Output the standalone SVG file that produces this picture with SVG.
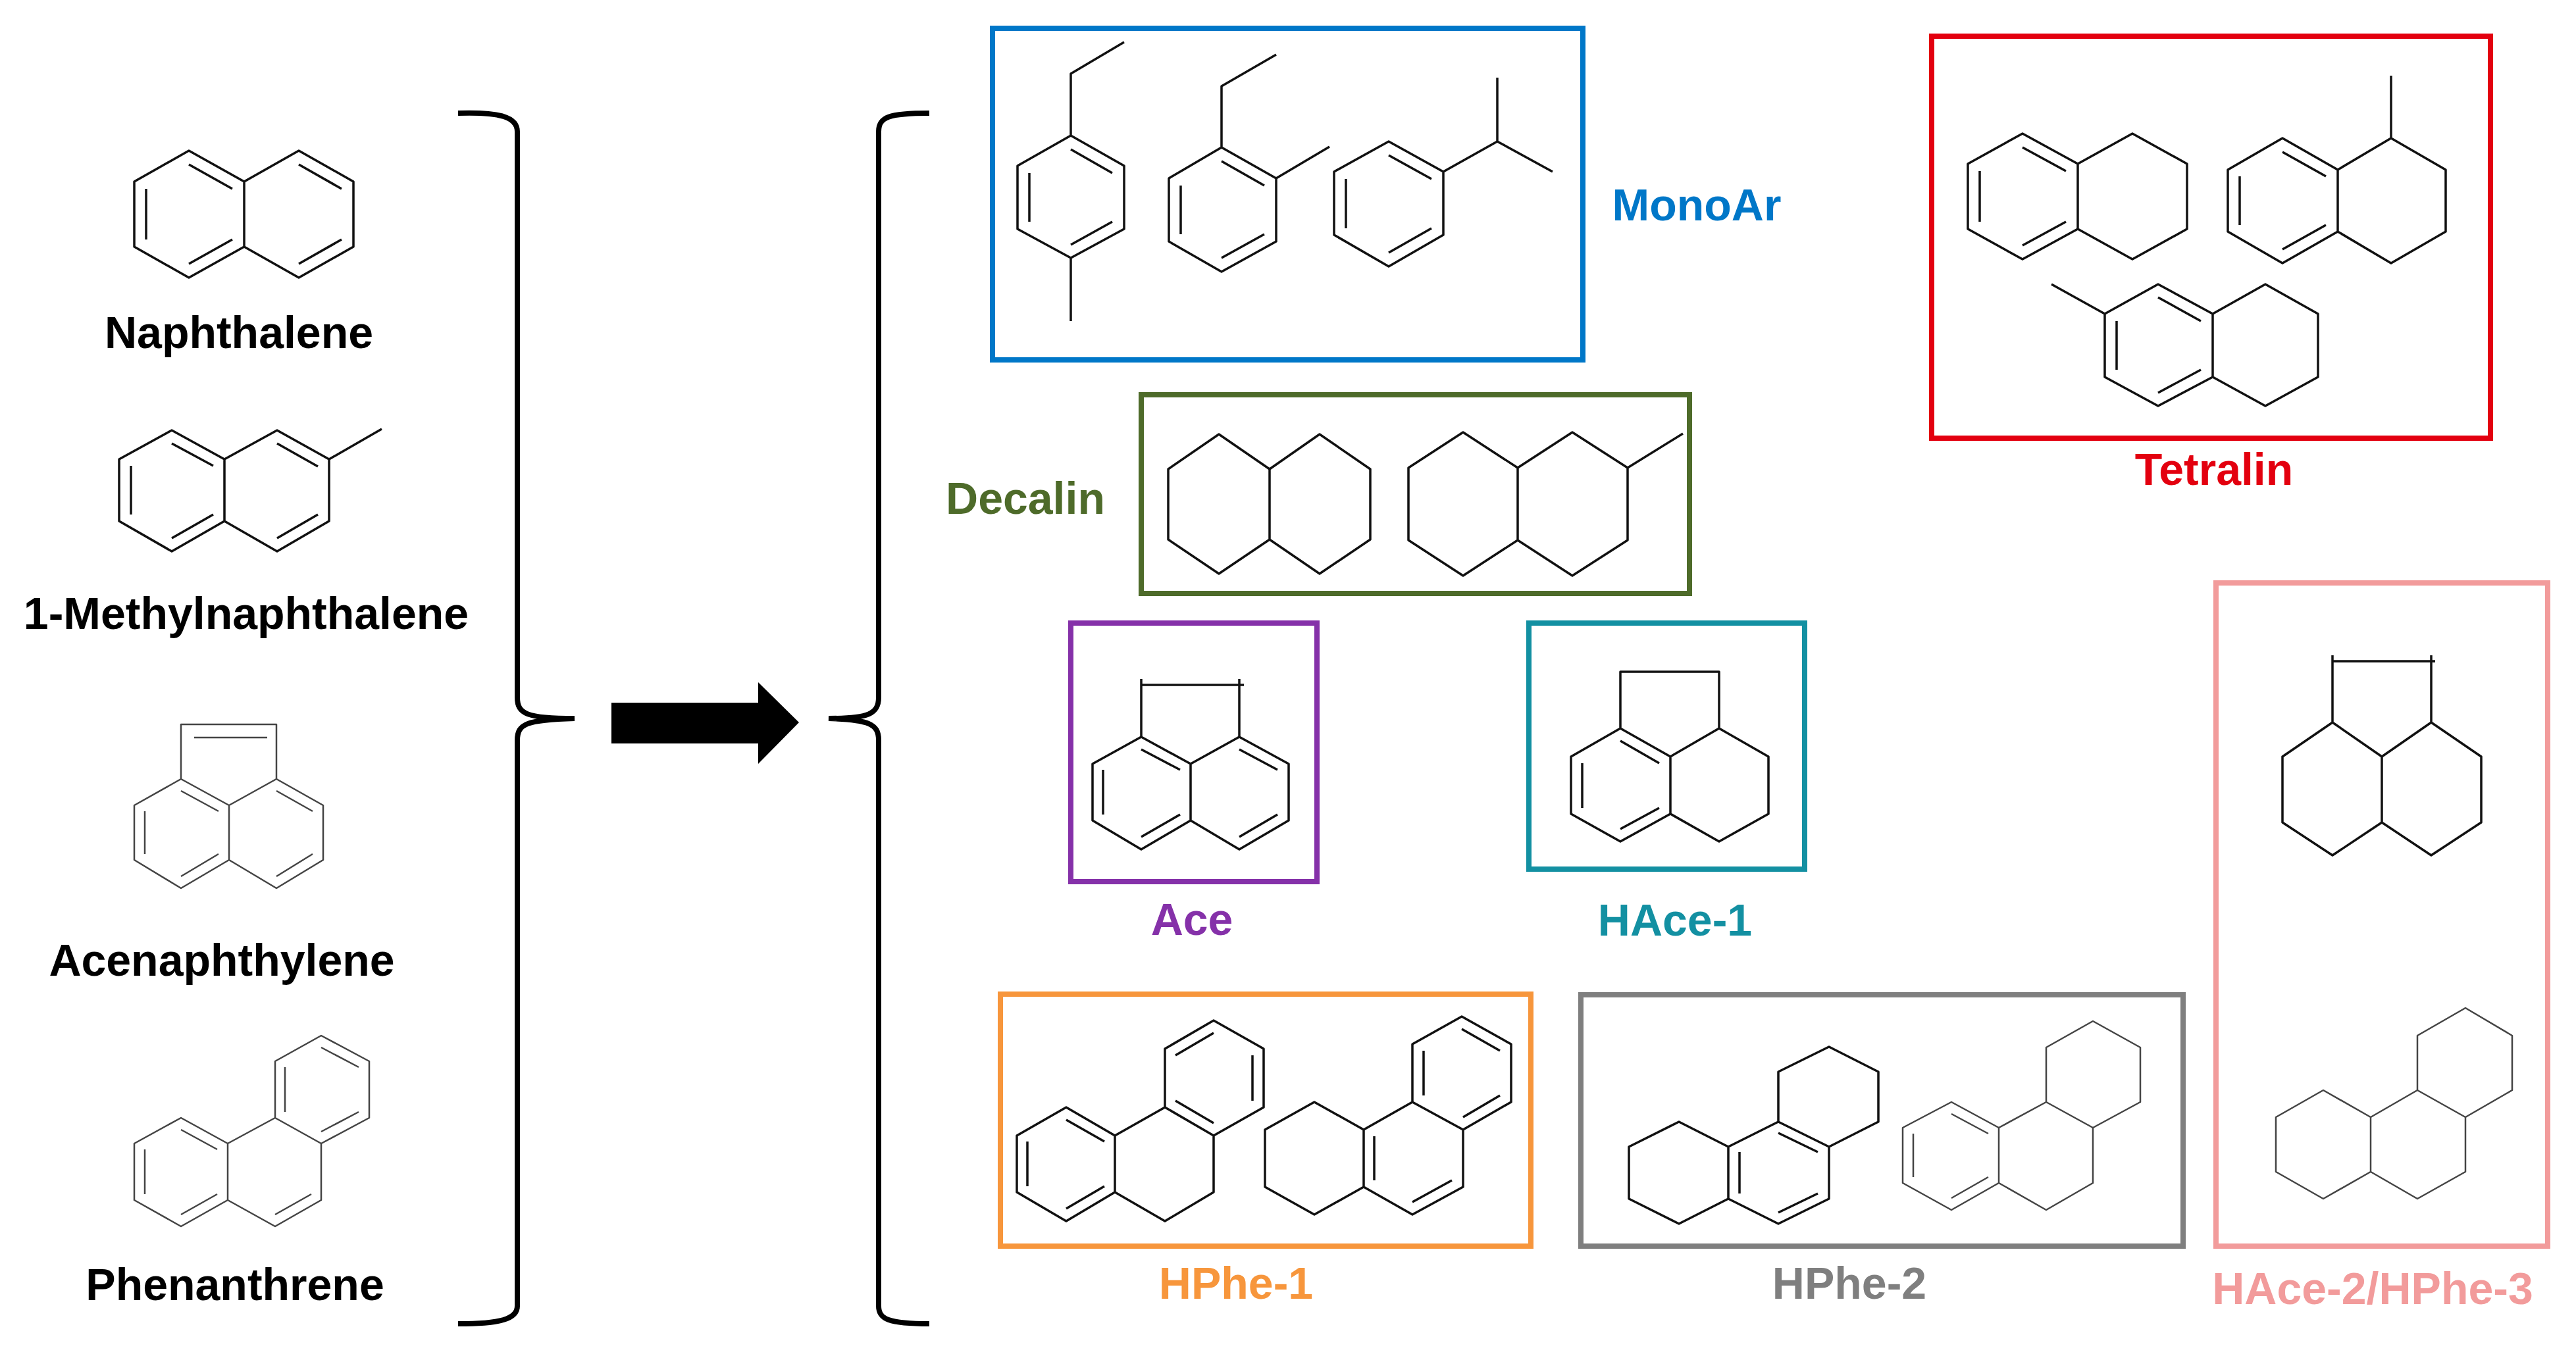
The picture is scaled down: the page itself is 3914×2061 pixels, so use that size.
<svg xmlns="http://www.w3.org/2000/svg" width="3914" height="2061" viewBox="0 0 3914 2061">
<style>
.m{fill:none;stroke:#111;stroke-width:3.5;stroke-linejoin:round}
.g{fill:none;stroke:#444;stroke-width:2.5;stroke-linejoin:round}
.box{fill:none;stroke-width:8}
.lb{font-family:"Liberation Sans",Arial,sans-serif;font-weight:bold;font-size:68px;text-anchor:middle}
</style>
<rect width="3914" height="2061" fill="#fff"/>
<g id="naphthalene">
<path class="m" d="M204,276 L287,229 L371,276 L371,375 L287,422 L204,375 Z M371,276 L454,229 L537,276 L537,375 L454,422 L371,375 M222,287 L222,364 M287,250 L353,287 M287,401 L353,364 M454,250 L519,287 M454,401 L519,364"/>
<text class="lb" x="363" y="529">Naphthalene</text>
</g>
<g id="methylnaphthalene">
<path class="m" d="M181,698 L261,654 L341,698 L341,792 L261,838 L181,792 Z M341,698 L421,654 L500,698 L500,792 L421,838 L341,792 M500,698 L580,652 M199,708 L199,782 M261,674 L324,708 M261,818 L324,782 M421,674 L483,709 M421,818 L483,782"/>
<text class="lb" x="374" y="956">1-Methylnaphthalene</text>
</g>
<g id="acenaphthylene">
<path class="g" d="M275,1184 L348,1224 L348,1307 L275,1350 L204,1307 L204,1224 Z M348,1224 L420,1184 L491,1224 L491,1307 L420,1350 L348,1307 M275,1184 L275,1101 L420,1101 L420,1184 M295,1121 L406,1121 M220,1233 L220,1298 M275,1202 L332,1233 M275,1332 L332,1298 M420,1202 L475,1233 M420,1332 L475,1298"/>
<text class="lb" x="337" y="1483">Acenaphthylene</text>
</g>
<g id="phenanthrene">
<path class="g" d="M275,1699 L346,1738 L346,1824 L275,1864 L204,1824 L204,1738 Z M488,1574 L561,1613 L561,1699 L488,1738 L418,1699 L418,1613 Z M346,1738 L418,1699 M488,1738 L488,1824 L418,1864 L346,1824 M220,1747 L220,1815 M275,1717 L330,1747 M275,1846 L330,1815 M488,1592 L545,1622 M433,1622 L433,1690 M488,1720 L545,1690 M418,1846 L473,1815"/>
<text class="lb" x="357" y="1976">Phenanthrene</text>
</g>
<g id="connectors">
<path d="M696,172 C760,170 786,178 786,200 L786,1060 C786,1085 800,1092 873,1092 C800,1094 786,1100 786,1125 L786,1985 C786,2005 760,2012 696,2012" fill="none" stroke="#000" stroke-width="8"/>
<path d="M1412,172 C1350,172 1335,178 1335,200 L1335,1060 C1335,1085 1320,1092 1259,1092 C1320,1094 1335,1100 1335,1125 L1335,1985 C1335,2005 1350,2012 1412,2012" fill="none" stroke="#000" stroke-width="8"/>
<path d="M929,1068 L1152,1068 L1152,1037 L1214,1098 L1152,1161 L1152,1130 L929,1130 Z" fill="#000"/>
</g>
<g id="monoar">
<rect class="box" x="1508" y="43" width="897" height="504" stroke="#0077C8"/>
<path class="m" d="M1627,206 L1708,252 L1708,348 L1627,392 L1546,348 L1546,252 Z M1627,206 L1627,112 L1708,64 M1627,392 L1627,488 M1627,227 L1690,263 M1627,372 L1690,337 M1564,263 L1564,337"/>
<path class="m" d="M1856,224 L1939,271 L1939,367 L1856,413 L1776,367 L1776,271 Z M1856,224 L1856,131 L1939,83 M1939,271 L2020,223 M1856,245 L1921,282 M1856,392 L1921,356 M1794,282 L1794,356"/>
<path class="m" d="M2110,215 L2193,261 L2193,357 L2110,405 L2027,357 L2027,261 Z M2193,261 L2275,215 L2275,118 M2275,215 L2359,261 M2110,236 L2175,272 M2110,384 L2175,347 M2045,272 L2045,347"/>
<text class="lb" x="2578" y="335" fill="#0077C8">MonoAr</text>
</g>
<g id="decalin">
<rect class="box" x="1734" y="600" width="833" height="302" stroke="#4E6B2A"/>
<path class="m" d="M1852,660 L1929,713 L1929,820 L1852,872 L1775,820 L1775,713 Z M1929,713 L2005,660 L2082,713 L2082,820 L2005,872 L1929,820"/>
<path class="m" d="M2223,657 L2306,711 L2306,821 L2223,875 L2140,821 L2140,711 Z M2306,711 L2389,657 L2473,711 L2473,821 L2389,875 L2306,821 M2473,711 L2557,659"/>
<text class="lb" x="1558" y="781" fill="#4E6B2A">Decalin</text>
</g>
<g id="tetralin">
<rect class="box" x="2935" y="55" width="849" height="611" stroke="#E3000F"/>
<path class="m" d="M3073,203 L3157,249 L3157,348 L3073,394 L2990,348 L2990,249 Z M3157,249 L3240,203 L3323,249 L3323,348 L3240,394 L3157,348 M3073,224 L3139,260 M3008,260 L3008,337 M3073,373 L3139,337"/>
<path class="m" d="M3468,210 L3552,258 L3552,352 L3468,400 L3385,352 L3385,258 Z M3552,258 L3633,210 L3716,258 L3716,352 L3633,400 L3552,352 M3633,210 L3633,115 M3468,231 L3534,268 M3403,268 L3403,342 M3468,379 L3534,342"/>
<path class="m" d="M3279,432 L3362,477 L3362,573 L3279,617 L3198,573 L3198,477 Z M3362,477 L3442,432 L3522,477 L3522,573 L3442,617 L3362,573 M3198,477 L3117,432 M3279,452 L3344,488 M3216,488 L3216,562 M3279,597 L3344,562"/>
<text class="lb" x="3364" y="737" fill="#E3000F">Tetralin</text>
</g>
<g id="ace">
<rect class="box" x="1627" y="947" width="374" height="393" stroke="#8531A9"/>
<path class="m" d="M1734,1120 L1809,1161 L1809,1247 L1734,1291 L1660,1247 L1660,1161 Z M1809,1161 L1883,1120 L1958,1161 L1958,1247 L1883,1291 L1809,1247 M1734,1120 L1734,1032 M1883,1120 L1883,1032 M1734,1041 L1890,1041 M1734,1139 L1793,1170 M1676,1170 L1676,1238 M1734,1272 L1793,1238 M1883,1139 L1941,1170 M1883,1272 L1941,1238"/>
<text class="lb" x="1811" y="1421" fill="#8531A9">Ace</text>
</g>
<g id="hace1">
<rect class="box" x="2323" y="947" width="419" height="374" stroke="#1390A2"/>
<path class="m" d="M2462,1107 L2538,1150 L2538,1237 L2462,1279 L2387,1237 L2387,1150 Z M2538,1150 L2612,1107 L2687,1150 L2687,1237 L2612,1279 L2538,1237 M2462,1107 L2462,1021 L2612,1021 L2612,1107 M2462,1126 L2521,1160 M2404,1160 L2404,1228 M2462,1260 L2521,1228"/>
<text class="lb" x="2545" y="1422" fill="#1390A2">HAce-1</text>
</g>
<g id="hace2hphe3">
<rect class="box" x="3367" y="886" width="504" height="1008" stroke="#F29B9B"/>
<path class="m" d="M3544,1098 L3619,1150 L3619,1250 L3544,1300 L3468,1250 L3468,1150 Z M3619,1150 L3694,1098 L3770,1150 L3770,1250 L3694,1300 L3619,1250 M3544,1098 L3544,996 M3694,1098 L3694,996 M3544,1005 L3700,1005"/>
<path class="g" d="M3746,1532 L3817,1574 L3817,1657 L3746,1698 L3673,1657 L3673,1574 Z M3673,1657 L3602,1698 L3602,1781 L3673,1822 L3746,1781 L3746,1698 M3602,1698 L3530,1657 L3458,1698 L3458,1781 L3530,1822 L3602,1781"/>
<text class="lb" x="3605" y="1982" fill="#F29B9B">HAce-2/HPhe-3</text>
</g>
<g id="hphe1">
<rect class="box" x="1520" y="1511" width="806" height="383" stroke="#F7963C"/>
<path class="m" d="M1620,1683 L1694,1726 L1694,1812 L1620,1856 L1545,1812 L1545,1726 Z M1844,1551 L1920,1594 L1920,1683 L1844,1726 L1770,1683 L1770,1594 Z M1694,1726 L1770,1683 M1844,1726 L1844,1812 L1770,1856 L1694,1812 M1620,1702 L1678,1735 M1561,1735 L1561,1803 M1620,1837 L1678,1803 M1844,1570 L1786,1604 M1903,1604 L1903,1673 M1786,1673 L1844,1707"/>
<path class="m" d="M1997,1675 L2072,1717 L2072,1804 L1997,1846 L1922,1804 L1922,1717 Z M2072,1717 L2146,1675 L2223,1717 L2223,1804 L2146,1846 L2072,1804 M2146,1675 L2146,1587 L2221,1545 L2296,1587 L2296,1675 L2223,1717 M2088,1727 L2088,1794 M2146,1827 L2206,1794 M2163,1597 L2163,1665 M2221,1564 L2279,1597 M2279,1665 L2223,1698"/>
<text class="lb" x="1878" y="1974" fill="#F7963C">HPhe-1</text>
</g>
<g id="hphe2">
<rect class="box" x="2402" y="1512" width="915" height="382" stroke="#7F7F7F"/>
<path class="m" d="M2551,1705 L2626,1743 L2626,1822 L2551,1860 L2475,1822 L2475,1743 Z M2626,1743 L2702,1705 L2779,1743 L2779,1822 L2702,1860 L2626,1822 M2702,1705 L2702,1629 L2779,1591 L2854,1629 L2854,1705 L2779,1743 M2643,1751 L2643,1814 M2702,1722 L2762,1751 M2702,1843 L2762,1814"/>
<path class="g" d="M2965,1675 L3037,1714 L3037,1798 L2965,1839 L2891,1798 L2891,1714 Z M3037,1714 L3109,1675 L3180,1714 L3180,1798 L3109,1839 L3037,1798 M3109,1675 L3109,1592 L3180,1552 L3252,1592 L3252,1675 L3180,1714 M2965,1693 L3021,1723 M2907,1723 L2907,1789 M2965,1821 L3021,1789"/>
<text class="lb" x="2810" y="1974" fill="#7F7F7F">HPhe-2</text>
</g>
</svg>
